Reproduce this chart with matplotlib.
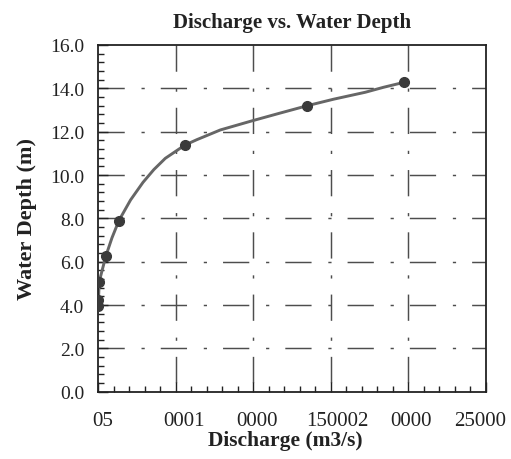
import matplotlib
matplotlib.use("Agg")
import matplotlib.pyplot as plt
import matplotlib.transforms as mtransforms
from matplotlib.ticker import MultipleLocator

# Measured points
discharge = [20, 30, 80, 500, 1350, 5600, 13500, 19750]
depth = [3.95, 4.25, 5.08, 6.25, 7.9, 11.38, 13.2, 14.28]

# Smoothed trend curve
curve_q = [20, 30, 80, 500, 900, 1350, 2100, 2900, 3600, 4340, 5600, 6370, 7890, 9930, 11700, 13500, 15200, 17240, 18420, 19750]
curve_h = [3.95, 4.25, 5.08, 6.25, 7.1, 7.9, 8.85, 9.66, 10.25, 10.77, 11.38, 11.63, 12.08, 12.5, 12.85, 13.2, 13.5, 13.82, 14.05, 14.28]

x_ticks = [0, 5000, 10000, 15000, 20000, 25000]
x_tick_labels = ["05", "0001", "0000", "150002", "0000", "25000"]
y_ticks = [0, 2, 4, 6, 8, 10, 12, 14, 16]

plt.rcParams['font.family'] = ['Liberation Serif', 'DejaVu Serif']

fig = plt.figure(figsize=(5.11, 4.60), dpi=100)
ax = fig.add_axes([0.1918, 0.1463, 0.9505 - 0.1918, 0.9 - 0.1463])

grid_color = '#4d4d4d'
gstyle = (0, (18, 11.5, 2.2, 11))
for yv in y_ticks[1:-1]:
    ax.axhline(yv, color=grid_color, lw=1.05, linestyle=gstyle, zorder=1)
for xv in x_ticks[1:-1]:
    ax.axvline(xv, ymin=1, ymax=0, color=grid_color, lw=1.05, linestyle=gstyle, zorder=1)

ax.plot(curve_q, curve_h, color='#666666', lw=2.1, zorder=2, solid_capstyle='round',
        solid_joinstyle='round')
ax.plot(discharge, depth, 'o', color='#3a3a3a', markersize=7, zorder=3)

ax.set_xlim(0, 25000)
ax.set_ylim(0, 16)
ax.set_xticks(x_ticks)
ax.set_xticklabels(x_tick_labels)
ax.set_yticks(y_ticks)
ax.set_yticklabels([f"{v:.1f}" for v in y_ticks])
ax.xaxis.set_minor_locator(MultipleLocator(1000))
ax.yaxis.set_minor_locator(MultipleLocator(0.4))

ax.tick_params(axis='both', which='major', direction='in', length=7, width=1.0,
               colors='#222222')
ax.tick_params(axis='both', which='minor', direction='in', length=4, width=1.0, colors='#222222')
ax.tick_params(axis='x', which='both', top=False, pad=14, labelsize=15)
ax.tick_params(axis='y', which='both', right=False, pad=10, labelsize=14)

# small horizontal shifts of x tick labels as in the reference
x_label_shift_px = [4.5, 8.5, 4, 7, 3, -5.5]
for lab, dx in zip(ax.get_xticklabels(), x_label_shift_px):
    lab.set_transform(lab.get_transform() +
                      mtransforms.ScaledTranslation(dx / 100.0, 0, fig.dpi_scale_trans))

for s in ax.spines.values():
    s.set_linewidth(1.3)
    s.set_color('#222222')

ax.set_title("Discharge vs. Water Depth", fontsize=15, fontweight='bold', color='#222222', pad=13)
ax.set_xlabel("Discharge (m3/s)", fontsize=15.5, fontweight='bold', color='#222222', labelpad=0)
ax.xaxis.label.set_x(0.482)
ax.set_ylabel("Water Depth (m)", fontsize=16, fontweight='bold', color='#222222', labelpad=9)

fig.savefig("out.png", dpi=100)
